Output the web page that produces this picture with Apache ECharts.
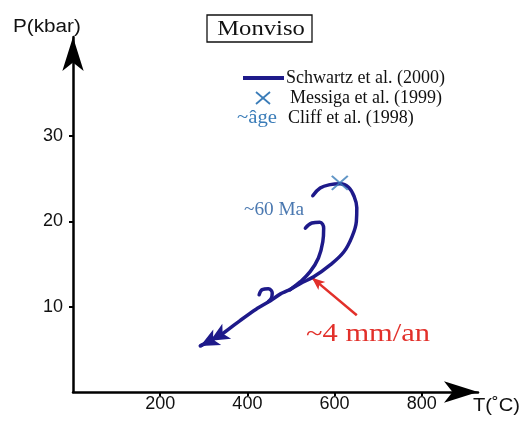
<!DOCTYPE html>
<html><head><meta charset="utf-8">
<script src="https://cdn.jsdelivr.net/npm/echarts@6/dist/echarts.min.js"></script>
<style>html,body{margin:0;padding:0;background:#fff}#c{width:522px;height:421px}</style>
</head><body><div id="c"></div>
<script>
// Tick labels
const xTicks = [200, 400, 600, 800];
const yTicks = [10, 20, 30];
// Schwartz et al. (2000) P-T path (T in °C, P in kbar)
const loopT = [550, 567, 590, 613, 632, 645, 651, 650, 640, 621, 590, 552, 521, 498];
const loopP = [23.0, 23.9, 24.3, 24.4, 24.0, 22.9, 21.6, 20.0, 18.2, 16.4, 14.9, 13.5, 12.7, 12.0];
const hookT = [533, 548, 566, 575, 573, 563, 544, 521, 498];
const hookP = [19.2, 19.8, 19.9, 19.2, 17.6, 15.7, 14.1, 12.9, 12.0];
const trunkT = [498, 476, 453, 420, 384, 345, 315, 292];
const trunkP = [12.0, 11.5, 10.7, 9.7, 8.4, 6.9, 6.0, 5.4];
const curlT = [427, 434, 448, 457, 455, 448];
const curlP = [11.4, 12.0, 12.1, 11.6, 11.0, 10.6];
// Messiga et al. (1999)
const crossT = [612];
const crossP = [24.5];
// exhumation rate arrow (tail, head)
const rateT = [651, 548];
const rateP = [9.0, 13.4];

const NAVY = '#1e1a8a';
const STEEL = '#3a7cb8';
const RED = '#e2302a';
const SERIF = '"Liberation Serif","Times New Roman",serif';
const SANS = '"Liberation Sans",Arial,Helvetica,sans-serif';

const zip = (a, b) => a.map((v, i) => [v, b[i]]);

const chart = echarts.init(document.getElementById('c'), null, {renderer: 'canvas'});

function pathSeries(T, P, extra) {
  return Object.assign({
    type: 'line', data: zip(T, P), smooth: 0.4, showSymbol: false, symbol: 'none',
    lineStyle: {color: NAVY, width: 3.5, cap: 'round', join: 'round'},
    silent: true, animation: false, z: 5
  }, extra || {});
}

const n = trunkT.length;
chart.setOption({
  animation: false,
  grid: {left: 73, right: 44, top: 37, bottom: 29},
  xAxis: {
    type: 'value', min: 0, max: 929, interval: 200,
    axisLine: {show: true, symbol: ['none', 'arrow'], symbolSize: [16, 34],
      lineStyle: {color: '#000', width: 2.5}},
    axisTick: {show: true, customValues: xTicks, length: 4, lineStyle: {color: '#000', width: 2}},
    axisLabel: {customValues: xTicks, margin: 3, color: '#111', fontSize: 18, fontFamily: SANS},
    splitLine: {show: false}
  },
  yAxis: {
    type: 'value', min: 0, max: 41.6, interval: 10,
    axisLine: {show: true, symbol: ['none', 'arrow'], symbolSize: [16, 34],
      lineStyle: {color: '#000', width: 2.5}},
    axisTick: {show: true, customValues: yTicks, length: 4, lineStyle: {color: '#000', width: 2}},
    axisLabel: {customValues: yTicks, margin: 10, color: '#111', fontSize: 18, fontFamily: SANS},
    splitLine: {show: false}
  },
  series: [
    pathSeries(loopT, loopP),
    pathSeries(hookT, hookP),
    pathSeries(curlT, curlP),
    pathSeries(trunkT, trunkP, {
      smooth: 0.3,
      markLine: {
        silent: true, animation: false,
        symbol: ['none', 'arrow'], symbolSize: [13, 19],
        label: {show: false},
        lineStyle: {color: NAVY, width: 3.5, type: 'solid'},
        data: [
          [{coord: [trunkT[n - 2], trunkP[n - 2]]}, {coord: [trunkT[n - 1], trunkP[n - 1]]}],
          [{coord: [trunkT[n - 3], trunkP[n - 3]]}, {coord: [trunkT[n - 2], trunkP[n - 2]]}]
        ]
      }
    }),
    {
      type: 'scatter', data: zip(crossT, crossP), symbol: 'path://M0,0L10,10M10,0L0,10',
      symbolSize: [16, 14], itemStyle: {color: 'none', borderColor: STEEL, borderWidth: 2},
      silent: true, z: 6,
      markLine: {
        silent: true, animation: false,
        symbol: ['none', 'arrow'], symbolSize: [8, 13],
        label: {show: false},
        lineStyle: {color: RED, width: 2.5, type: 'solid'},
        data: [[{coord: [rateT[0], rateP[0]]}, {coord: [rateT[1], rateP[1]]}]]
      }
    }
  ],
  graphic: [
    {type: 'text', x: 13, y: 27, scaleX: 1.15, style: {text: 'P(kbar)', font: '18px ' + SANS, fill: '#111', verticalAlign: 'middle'}},
    {type: 'text', x: 473, y: 406, scaleX: 1.12, style: {text: 'T(˚C)', font: '18px ' + SANS, fill: '#111', verticalAlign: 'middle'}},
    {type: 'rect', shape: {x: 207, y: 15, width: 105, height: 27}, style: {fill: 'none', stroke: '#111', lineWidth: 1.3}},
    {type: 'text', x: 261, y: 29, scaleX: 1.12, style: {text: 'Monviso', font: '22px ' + SERIF, fill: '#111', align: 'center', verticalAlign: 'middle'}},
    {type: 'line', shape: {x1: 243, y1: 78, x2: 284, y2: 78}, style: {stroke: NAVY, lineWidth: 4}},
    {type: 'text', x: 286, y: 78, style: {text: 'Schwartz et al. (2000)', font: '18px ' + SERIF, fill: '#111', verticalAlign: 'middle'}},
    {type: 'line', shape: {x1: 256, y1: 92, x2: 270, y2: 104}, style: {stroke: STEEL, lineWidth: 1.8}},
    {type: 'line', shape: {x1: 256, y1: 104, x2: 270, y2: 92}, style: {stroke: STEEL, lineWidth: 1.8}},
    {type: 'text', x: 290, y: 98, style: {text: 'Messiga et al. (1999)', font: '18px ' + SERIF, fill: '#111', verticalAlign: 'middle'}},
    {type: 'text', x: 237, y: 118, scaleX: 1.15, style: {text: '~âge', font: '18px ' + SERIF, fill: STEEL, verticalAlign: 'middle'}},
    {type: 'text', x: 288, y: 118, style: {text: 'Cliff et al. (1998)', font: '18px ' + SERIF, fill: '#111', verticalAlign: 'middle'}},
    {type: 'text', x: 244, y: 210, scaleX: 1.07, style: {text: '~60 Ma', font: '18px ' + SERIF, fill: '#4a78b0', verticalAlign: 'middle'}},
    {type: 'text', x: 306, y: 334, scaleX: 1.22, style: {text: '~4 mm/an', font: '25px ' + SERIF, fill: RED, verticalAlign: 'middle'}}
  ]
});
</script>
</body></html>
